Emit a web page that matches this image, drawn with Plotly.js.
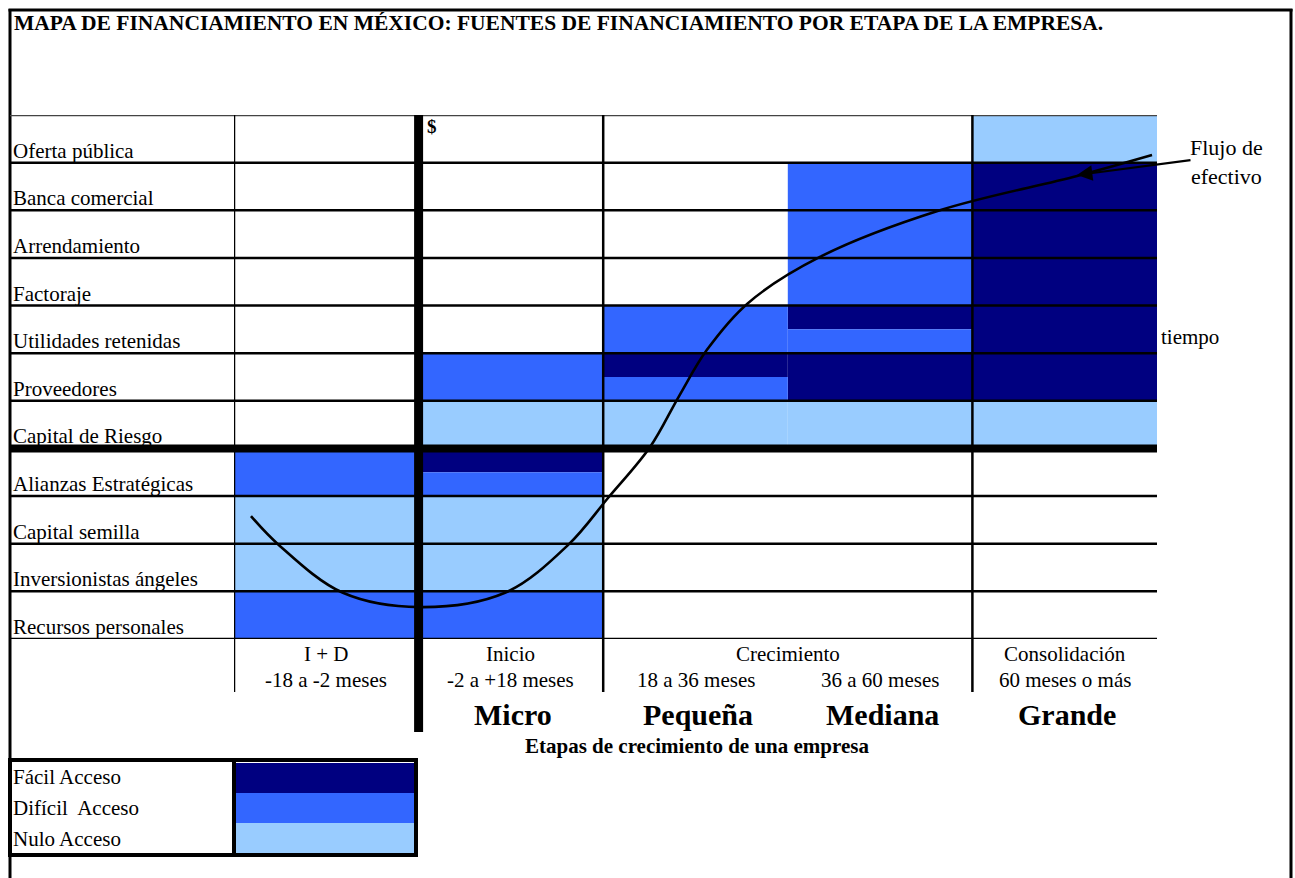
<!DOCTYPE html>
<html><head><meta charset="utf-8">
<script src="https://cdn.plot.ly/plotly-3.0.1.min.js"></script>
<style>html,body{margin:0;padding:0;background:#fff}#chart{width:1295px;height:878px}</style>
</head><body><div id="chart"></div>
<script>
// ---------------- data ----------------
const titleText = 'MAPA DE FINANCIAMIENTO EN MÉXICO: FUENTES DE FINANCIAMIENTO POR ETAPA DE LA EMPRESA.';
// financing sources, top to bottom
const sources = ['Oferta pública','Banca comercial','Arrendamiento','Factoraje','Utilidades retenidas',
  'Proveedores','Capital de Riesgo','Alianzas Estratégicas','Capital semilla','Inversionistas ángeles','Recursos personales'];
// columns (company stages)
const columns = ['I + D','Inicio','Pequeña','Mediana','Grande'];
const stageOfColumn = ['I + D','Inicio','Crecimiento','Crecimiento','Consolidación'];
const periods = ['-18 a -2 meses','-2 a +18 meses','18 a 36 meses','36 a 60 meses','60 meses o más'];
const sizeLabels = ['', 'Micro','Pequeña','Mediana','Grande'];
const xAxisTitle = 'Etapas de crecimiento de una empresa';
// access levels: F = fácil, D = difícil, N = nulo ; "F/D" = upper half F, lower half D
const levelCodes = ['F','D','N'];
const levelNames = ['Fácil Acceso','Difícil  Acceso','Nulo Acceso'];
const accessMap = [
  ['', '', '', '', 'N'],      // Oferta pública
  ['', '', '', 'D', 'F'],     // Banca comercial
  ['', '', '', 'D', 'F'],     // Arrendamiento
  ['', '', '', 'D', 'F'],     // Factoraje
  ['', '', 'D', 'F/D', 'F'],  // Utilidades retenidas
  ['', 'D', 'F/D', 'F', 'F'], // Proveedores
  ['', 'N', 'N', 'N', 'N'],   // Capital de Riesgo
  ['D', 'F/D', '', '', ''],   // Alianzas Estratégicas
  ['N', 'N', '', '', ''],     // Capital semilla
  ['N', 'N', '', '', ''],     // Inversionistas ángeles
  ['D', 'D', '', '', '']      // Recursos personales
];
// cash-flow curve (x in stage units, y in row units counted from the bottom)
const curveX = [0.092,0.244,0.590,1.008,1.468,1.809,2.026,2.254,2.411,2.562,2.784,3.174,3.824,4.567,4.973];
const curveY = [2.58, 1.97, 0.97, 0.67, 0.97, 1.97, 2.96, 4.03, 5.10, 6.07, 7.05, 8.02, 9.00, 9.72, 10.16];
const curveLabel = 'Flujo de<br>efectivo';
const timeLabel = 'tiempo';
const moneyLabel = '$';

// ---------------- style ----------------
const W = 1295, H = 878;
const colors = {F:'#000080', D:'#3366FF', N:'#99CCFF'};
const serif = 'Liberation Serif, Times New Roman, serif';
const px = x => x / W, py = y => 1 - y / H;
const gridL = 234, gridR = 1157, gridT = 115, gridB = 639;
const nRows = sources.length, nCols = columns.length;
const F = (size) => ({family:serif, size:size, color:'#000'});

// ---------------- cell bars ----------------
const cellData = {F:{y:[],base:[],x:[],w:[]}, D:{y:[],base:[],x:[],w:[]}, N:{y:[],base:[],x:[],w:[]}};
function addCell(code, yc, w, col){
  const d = cellData[code]; d.y.push(yc); d.base.push(col); d.x.push(1); d.w.push(w);
}
accessMap.forEach((row, t) => {
  const r = nRows - 1 - t;
  row.forEach((code, j) => {
    if (!code) return;
    if (code.includes('/')) {
      const [top, bot] = code.split('/');
      addCell(top, r + 0.75, 0.5, j);
      addCell(bot, r + 0.25, 0.5, j);
    } else addCell(code, r + 0.5, 1, j);
  });
});
const traces = levelCodes.map(c => ({
  type:'bar', orientation:'h', x:cellData[c].x, base:cellData[c].base, y:cellData[c].y, width:cellData[c].w,
  marker:{color:colors[c], line:{width:0}}, hoverinfo:'skip', showlegend:false, xaxis:'x', yaxis:'y'
}));
traces.push({type:'scatter', mode:'lines', x:curveX, y:curveY, line:{color:'#000', width:2.6, shape:'spline', smoothing:1},
  hoverinfo:'skip', showlegend:false, xaxis:'x', yaxis:'y'});
// legend colour swatches
traces.push({type:'bar', orientation:'h', x:levelCodes.map(()=>1), base:levelCodes.map(()=>0),
  y:levelCodes.map((c,i)=>i+0.5), width:levelCodes.map(()=>1), marker:{color:levelCodes.map(c=>colors[c]), line:{width:0}},
  hoverinfo:'skip', showlegend:false, xaxis:'x2', yaxis:'y2'});

// ---------------- shapes ----------------
const shapes = [];
const L = (o) => shapes.push(Object.assign({type:'line', layer:'above'}, o));
// page border
L({xref:'paper', yref:'paper', x0:px(10), x1:px(10), y0:py(9), y1:py(878), line:{color:'#000', width:3}});
L({xref:'paper', yref:'paper', x0:px(8.5), x1:px(1292.5), y0:py(10), y1:py(10), line:{color:'#000', width:3}});
L({xref:'paper', yref:'paper', x0:px(1291), x1:px(1291), y0:py(9), y1:py(878), line:{color:'#000', width:3}});
// horizontal row lines
for (let k = 0; k <= nRows; k++) {
  const thick = (k === 4);
  L({xref:'paper', yref:'y', x0:px(10), x1:px(gridR), y0:k, y1:k,
     line:{color: k === nRows ? '#444' : '#000', width: thick ? 8 : 2.5}});
}
// vertical lines
[0, 2, 4].forEach(j => L({xref:'x', yref:'paper', x0:j, x1:j, y0:py(692), y1:py(gridT), line:{color:'#000', width:2.5}}));
L({xref:'x', yref:'paper', x0:1, x1:1, y0:py(732), y1:py(gridT), line:{color:'#000', width:9}});
// legend box
shapes.push({type:'rect', xref:'paper', yref:'paper', x0:px(10), x1:px(416), y0:py(855), y1:py(760), line:{color:'#000', width:4}, layer:'above'});
L({xref:'paper', yref:'paper', x0:px(234), x1:px(234), y0:py(855), y1:py(760), line:{color:'#000', width:4}});

// ---------------- annotations ----------------
const annotations = [];
const A = (o) => annotations.push(Object.assign({showarrow:false, font:F(21)}, o));
A({xref:'paper', yref:'paper', x:px(12), y:py(23), xanchor:'left', yanchor:'middle', text:'<b>'+titleText+'</b>', font:F(21.5)});
sources.forEach((s, t) => {
  const r = nRows - 1 - t;
  A({xref:'paper', yref:'y', x:px(11), y:r, yshift:12, xanchor:'left', yanchor:'middle', text:s});
});
// stage names (group consecutive equal names)
for (let j = 0; j < nCols; ) {
  let k = j; while (k + 1 < nCols && stageOfColumn[k+1] === stageOfColumn[j]) k++;
  A({xref:'x', yref:'paper', x:(j + k + 1) / 2, y:py(654), xanchor:'center', yanchor:'middle', text:stageOfColumn[j]});
  j = k + 1;
}
periods.forEach((p, j) => A({xref:'x', yref:'paper', x:j + 0.5, y:py(680), xanchor:'center', yanchor:'middle', text:p}));
sizeLabels.forEach((s, j) => { if (s) A({xref:'x', yref:'paper', x:j + 0.5, xshift:2, y:py(714), xanchor:'center', yanchor:'middle', text:'<b>'+s+'</b>', font:F(30)}); });
A({xref:'paper', yref:'paper', x:px(697), y:py(746), xanchor:'center', yanchor:'middle', text:'<b>'+xAxisTitle+'</b>', font:F(21)});
A({xref:'x', yref:'y', x:1, xshift:6, y:nRows, yshift:-11, xanchor:'left', yanchor:'middle', text:'<b>'+moneyLabel+'</b>', font:F(19)});
A({xref:'paper', yref:'paper', x:px(1226), y:py(162), xanchor:'center', yanchor:'middle', text:curveLabel, font:F(22)});
A({xref:'paper', yref:'paper', x:px(1159), y:py(337), xanchor:'left', yanchor:'middle', text:timeLabel});
// arrow
annotations.push({xref:'paper', yref:'paper', x:px(1077), y:py(175), ax:115, ay:-15, text:'', showarrow:true,
  arrowhead:2, arrowsize:1.4, arrowwidth:2.2, arrowcolor:'#000'});
// legend labels
levelNames.forEach((n, i) => A({xref:'paper', yref:'paper', x:px(11), y:py(777 + i * 31), xanchor:'left', yanchor:'middle', text:n}));

const noAxis = {showgrid:false, zeroline:false, showticklabels:false, ticks:'', showline:false, fixedrange:true};
const layout = {
  width:W, height:H, margin:{l:0, r:0, t:0, b:0, pad:0},
  paper_bgcolor:'#fff', plot_bgcolor:'rgba(0,0,0,0)', barmode:'overlay', showlegend:false,
  xaxis:Object.assign({domain:[px(gridL), px(gridR)], range:[0, nCols], anchor:'y'}, noAxis),
  yaxis:Object.assign({domain:[py(gridB), py(gridT)], range:[0, nRows], anchor:'x'}, noAxis),
  xaxis2:Object.assign({domain:[px(236), px(414)], range:[0, 1], anchor:'y2'}, noAxis),
  yaxis2:Object.assign({domain:[py(853), py(763)], range:[3, 0], anchor:'x2'}, noAxis),
  shapes, annotations
};
Plotly.newPlot('chart', traces, layout, {displayModeBar:false, staticPlot:true});
</script></body></html>
